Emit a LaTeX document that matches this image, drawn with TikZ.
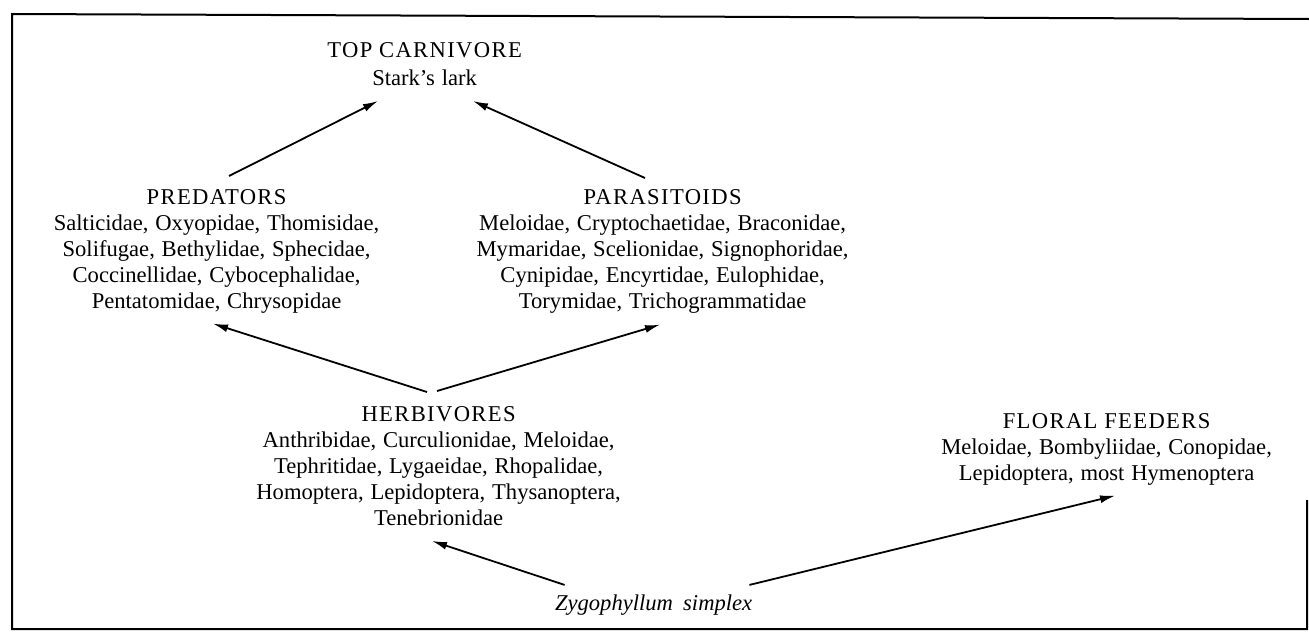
\documentclass[tikz,border=0pt]{standalone}
\usepackage{fontspec}
\setmainfont{Liberation Serif}
\usetikzlibrary{positioning, calc, arrows.meta}
\newcommand{\grp}[1]{{\addfontfeature{LetterSpace=6}#1}}

\begin{document}
\begin{tikzpicture}[x=0.5pt, y=-0.5pt,
  taxa/.style={align=center, inner sep=0pt, anchor=north, font=\fontsize{11.3}{13}\selectfont},
  feeds/.style={line width=0.9pt, -{Latex[length=7.5pt, width=4pt]}}]
  \spaceskip=3.4pt plus 1pt minus 0.5pt\relax
  \useasboundingbox (0,0) rectangle (1309,632);
  % frame
  \draw[line width=1pt] (1307,500) -- (1307,629) -- (12,629) -- (12,14) -- (1309,19);

  % trophic groups
  \node[taxa] (top) at (428,42) {\grp{TOP CARNIVORE}\\[1pt] Stark's lark};
  \node[taxa] (pred) at (220,189) {\grp{PREDATORS}\\
    Salticidae, Oxyopidae, Thomisidae,\\ Solifugae, Bethylidae, Sphecidae,\\
    Coccinellidae, Cybocephalidae,\\ Pentatomidae, Chrysopidae};
  \node[taxa] (para) at (666,189) {\grp{PARASITOIDS}\\
    Meloidae, Cryptochaetidae, Braconidae,\\ Mymaridae, Scelionidae, Signophoridae,\\
    Cynipidae, Encyrtidae, Eulophidae,\\ Torymidae, Trichogrammatidae};
  \node[taxa] (herb) at (442,406) {\grp{HERBIVORES}\\
    Anthribidae, Curculionidae, Meloidae,\\ Tephritidae, Lygaeidae, Rhopalidae,\\
    Homoptera, Lepidoptera, Thysanoptera,\\ Tenebrionidae};
  \node[taxa] (floral) at (1110,413) {\grp{FLORAL FEEDERS}\\
    Meloidae, Bombyliidae, Conopidae,\\ Lepidoptera, most Hymenoptera};
  \node[taxa, anchor=base, font=\fontsize{11.3}{13}\selectfont\itshape]
    (zygo) at (657,610) {Zygophyllum\hspace{0.45em}simplex};

  % feeding links
  \draw[feeds] ([shift={(9,-13)}]pred.north) -- ([shift={(-50,15)}]top.south);
  \draw[feeds] ([shift={(-21,-11)}]para.north) -- ([shift={(45,15)}]top.south);
  \draw[feeds] ([shift={(-15,-14)}]herb.north) -- ([shift={(-7,10)}]pred.south);
  \draw[feeds] ([shift={(-5,-15)}]herb.north) -- ([shift={(-6,11)}]para.south);
  \draw[feeds] ([shift={(10,-9)}]zygo.north west) -- ([shift={(-10,15)}]herb.south);
  \draw[feeds] ([shift={(-10,-9)}]zygo.north east) -- ([shift={(5,10)}]floral.south);
\end{tikzpicture}
\end{document}
